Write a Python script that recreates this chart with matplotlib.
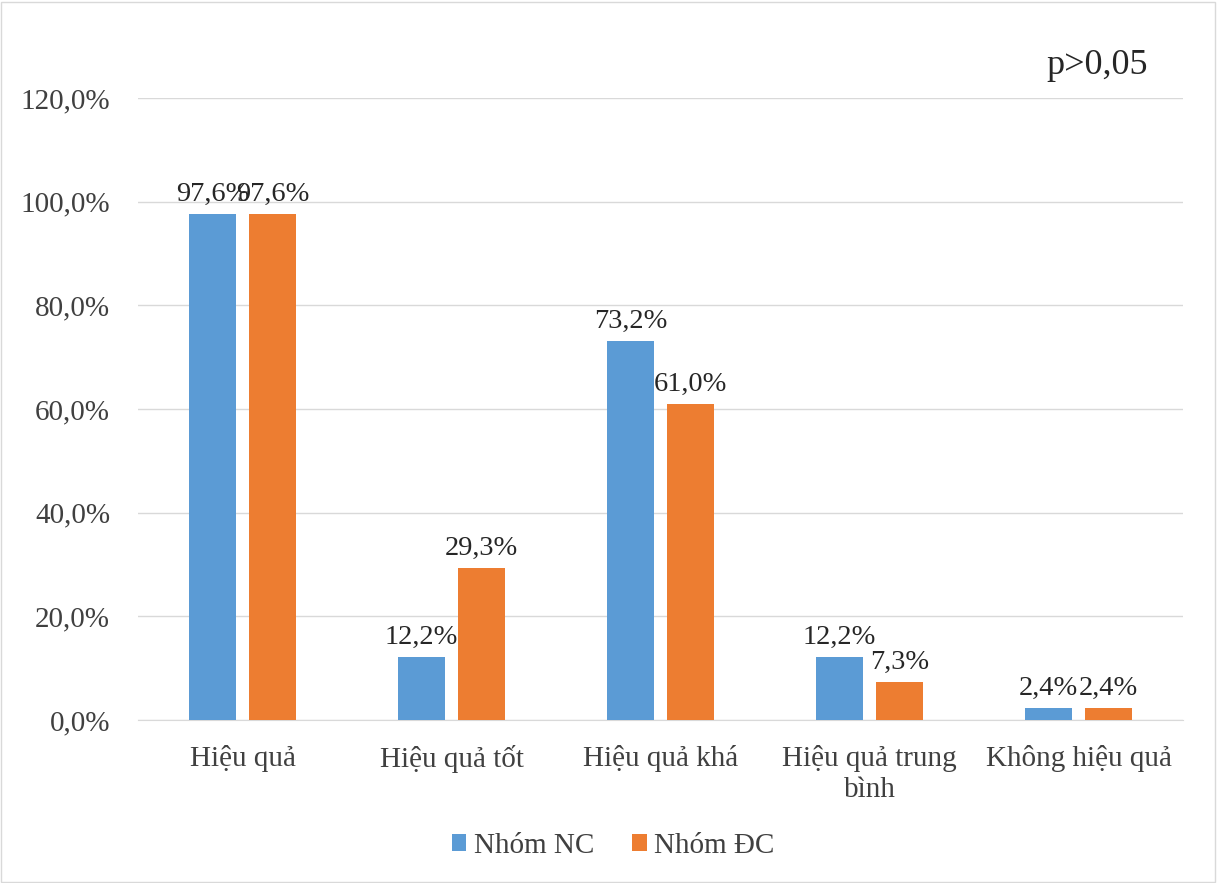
import matplotlib
matplotlib.use("Agg")
import matplotlib.pyplot as plt
import numpy as np
from matplotlib.patches import Rectangle

categories = ["Hiệu quả", "Hiệu quả tốt", "Hiệu quả khá", "Hiệu quả trung\nbình", "Không hiệu quả"]
nc_values = [97.6, 12.2, 73.2, 12.2, 2.4]
dc_values = [97.6, 29.3, 61.0, 7.3, 2.4]
series_names = ["Nhóm NC", "Nhóm ĐC"]
yticks = [0, 20, 40, 60, 80, 100, 120]

plt.rcParams['font.family'] = ['Liberation Serif', 'DejaVu Serif']

fig = plt.figure(figsize=(12.17, 8.83), dpi=100)
W, H = 1217, 883
ax = fig.add_axes([138 / W, 1 - 720 / H, (1183 - 138) / W, (720 - 98) / H])

x = np.arange(len(categories))
bw = 0.225
off = 0.143
b1 = ax.bar(x - off, nc_values, bw, color="#5B9BD5", zorder=3, label=series_names[0])
b2 = ax.bar(x + off, dc_values, bw, color="#ED7D31", zorder=3, label=series_names[1])

def fmt(v):
    return f"{v:.1f}%".replace(".", ",")

for bars, vals in ((b1, nc_values), (b2, dc_values)):
    for b, v in zip(bars, vals):
        ax.annotate(fmt(v), (b.get_x() + b.get_width() / 2, v), xytext=(0, 5),
                    textcoords="offset points", ha="center", va="bottom",
                    fontsize=20.5, color="#262626")

ax.set_xlim(-0.5, len(categories) - 0.5)
ax.set_ylim(0, 120)
ax.set_yticks(yticks)
ax.set_yticklabels([f"{t:.1f}%".replace(".", ",") for t in yticks], fontsize=21, color="#404040")
ax.set_xticks(x)
ax.set_xticklabels(categories, fontsize=21, color="#404040", linespacing=1.25)
ax.tick_params(axis="x", length=0, pad=18)
ax.tick_params(axis="y", length=0, pad=20)
ax.grid(axis="y", color="#D9D9D9", linewidth=1, zorder=0)
for s in ["top", "right", "left"]:
    ax.spines[s].set_visible(False)
ax.spines["bottom"].set_color("#D9D9D9")

fig.text(1097 / W, 1 - 66 / H, "p>0,05", fontsize=26, color="#262626", ha="center", va="center")

leg = fig.legend(handles=[b1, b2], labels=series_names, loc="center", bbox_to_anchor=(613 / W, 1 - 846 / H),
                 ncol=2, frameon=False, fontsize=21, handlelength=0.5, handleheight=0.5,
                 handletextpad=0.25, columnspacing=1.3)
for t in leg.get_texts():
    t.set_color("#404040")

fig.patches.append(Rectangle((1 / W, 1 / H), 1 - 3 / W, 1 - 3 / H, transform=fig.transFigure,
                             fill=False, edgecolor="#D9D9D9", linewidth=1))

fig.savefig("out.png", dpi=100)
